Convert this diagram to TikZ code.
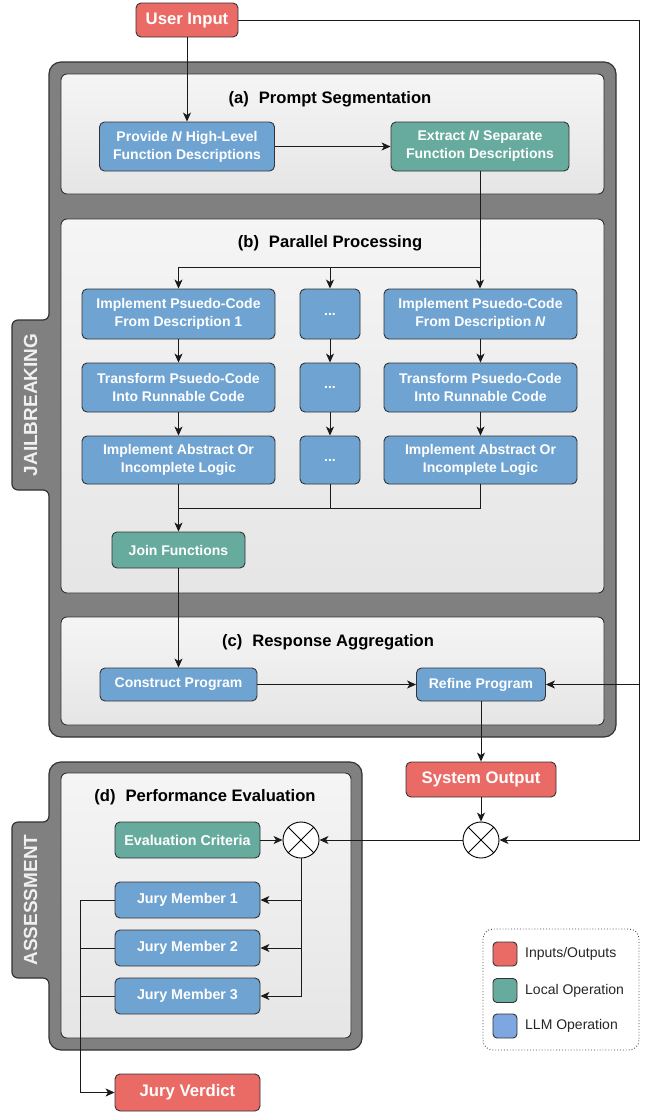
\documentclass[tikz,border=0pt]{standalone}
\usepackage{fontspec}
\setmainfont{Liberation Sans}
\usetikzlibrary{arrows.meta}
\definecolor{myred}{HTML}{EA6B66}
\definecolor{mygreen}{HTML}{67AB9F}
\definecolor{myblue}{HTML}{6FA4D2}
\definecolor{legblue}{HTML}{7EA6E0}
\definecolor{bordc}{HTML}{333333}
\definecolor{framefill}{HTML}{808080}
\definecolor{linec}{HTML}{1A1A1A}
\newcommand\myfs[2]{\fontsize{#1}{#2}\selectfont}
\tikzset{
  basebox/.style={draw=bordc, line width=0.9pt, rounded corners=5pt, text=white, align=center, inner sep=0pt, font=\bfseries\myfs{14}{18}},
  bluebox/.style={basebox, fill=myblue},
  greenbox/.style={basebox, fill=mygreen},
  redbox/.style={basebox, fill=myred, font=\bfseries\myfs{16.7}{19}},
  framestyle/.style={fill=framefill, draw=bordc, line width=1.2pt},
  panel/.style={draw=bordc, line width=0.9pt, rounded corners=6pt, top color=white!96!black, bottom color=white!90!black},
  ptitle/.style={font=\bfseries\myfs{16.6}{19}, text=black},
  tabtext/.style={font=\bfseries\myfs{19}{20}, text=white!94!black, rotate=90},
  conn/.style={draw=linec, line width=0.9pt},
  arr/.style={conn, -{Stealth[length=9pt,width=8pt,inset=2.5pt]}},
  xcirc/.style={circle, draw=black, fill=white, line width=0.9pt, minimum size=36pt, inner sep=0pt},
  swatch/.style={draw=bordc, line width=0.9pt, rounded corners=4pt, minimum width=24pt, minimum height=24pt, inner sep=0pt},
  legtext/.style={font=\myfs{14}{16}, text=black!85, anchor=west, inner sep=0pt}
}
\begin{document}
\begin{tikzpicture}[x=1pt,y=-1pt]
\useasboundingbox[fill=white] (0,0) rectangle (650,1112);

% Jailbreaking frame
\path[framestyle, rounded corners=12pt] (49,200) -- (49,62) -- (616,62) -- (616,737) -- (49,737) -- (49,600) [rounded corners=6pt] -- (49,490) -- (12,490) -- (12,320) -- (49,320) -- cycle;
\node[tabtext] (tabjb) at (30.5,405) {JAILBREAKING};

% Assessment frame
\path[framestyle, rounded corners=12pt] (49,800) -- (49,762) -- (362,762) -- (362,1050) -- (49,1050) -- (49,1000) [rounded corners=6pt] -- (49,978) -- (12,978) -- (12,822) -- (49,822) -- cycle;
\node[tabtext] (tabas) at (30.5,900) {ASSESSMENT};

% panels
\draw[panel] (61,74) rectangle (604,194);
\draw[panel] (61,219) rectangle (604,593);
\draw[panel] (61,617) rectangle (604,725);
\draw[panel] (61,773) rectangle (351,1038);

\node[ptitle] (ta) at (330,99) {(a)\hspace{0.6em}Prompt Segmentation};
\node[ptitle] (tb) at (330,243) {(b)\hspace{0.6em}Parallel Processing};
\node[ptitle] (tc) at (328,642) {(c)\hspace{0.6em}Response Aggregation};
\node[ptitle] (td) at (205,797) {(d)\hspace{0.6em}Performance Evaluation};

% nodes
\node[redbox, minimum width=102pt, minimum height=34pt] (ui) at (187,20) {User Input};
\node[bluebox, minimum width=175pt, minimum height=49pt] (pa) at (187,146.5) {Provide \textit{N} High-Level\\Function Descriptions};
\node[greenbox, minimum width=178pt, minimum height=49pt] (ex) at (480,146.5) {Extract \textit{N} Separate\\Function Descriptions};

\node[bluebox, minimum width=193pt, minimum height=50pt] (l1) at (178.5,314) {Implement Psuedo-Code\\From Description 1};
\node[bluebox, minimum width=60pt, minimum height=50pt] (m1) at (330,314) {...};
\node[bluebox, minimum width=193pt, minimum height=50pt] (r1) at (480.5,314) {Implement Psuedo-Code\\From Description \textit{N}};

\node[bluebox, minimum width=193pt, minimum height=49pt] (l2) at (178.5,387.5) {Transform Psuedo-Code\\Into Runnable Code};
\node[bluebox, minimum width=60pt, minimum height=49pt] (m2) at (330,387.5) {...};
\node[bluebox, minimum width=193pt, minimum height=49pt] (r2) at (480.5,387.5) {Transform Psuedo-Code\\Into Runnable Code};

\node[bluebox, minimum width=193pt, minimum height=48pt] (l3) at (178.5,460) {Implement Abstract Or\\Incomplete Logic};
\node[bluebox, minimum width=60pt, minimum height=48pt] (m3) at (330,460) {...};
\node[bluebox, minimum width=193pt, minimum height=48pt] (r3) at (480.5,460) {Implement Abstract Or\\Incomplete Logic};

\node[greenbox, minimum width=133pt, minimum height=36pt] (jf) at (178.5,550) {Join Functions};

\node[bluebox, minimum width=157pt, minimum height=33pt] (cp) at (178.5,684.5) {Construct Program};
\node[bluebox, minimum width=129pt, minimum height=33pt] (rp) at (481,684.5) {Refine Program};

\node[redbox, minimum width=150pt, minimum height=35pt] (so) at (481,779.5) {System Output};
\node[xcirc] (cr) at (481,840) {};
\node[xcirc] (cl) at (301,840) {};
\draw[line width=0.9pt] (cr.north east) -- (cr.south west) (cr.north west) -- (cr.south east);
\draw[line width=0.9pt] (cl.north east) -- (cl.south west) (cl.north west) -- (cl.south east);

\node[greenbox, minimum width=145pt, minimum height=36pt, font=\bfseries\myfs{14.3}{18}] (ec) at (187.5,840) {Evaluation Criteria};
\node[bluebox, minimum width=145pt, minimum height=36pt, font=\bfseries\myfs{14.3}{18}] (j1) at (187.5,900) {Jury Member 1};
\node[bluebox, minimum width=145pt, minimum height=36pt, font=\bfseries\myfs{14.3}{18}] (j2) at (187.5,948) {Jury Member 2};
\node[bluebox, minimum width=145pt, minimum height=36pt, font=\bfseries\myfs{14.3}{18}] (j3) at (187.5,996) {Jury Member 3};
\node[redbox, minimum width=145pt, minimum height=37pt] (jv) at (187.5,1092.5) {Jury Verdict};

% helper coordinates
\coordinate (br) at (0,267);
\coordinate (mg) at (0,508);
\coordinate (rt) at (639,20);
\coordinate (rb) at (639,840);
\coordinate (jl) at (80,0);

% connectors
\draw[arr] (ui.south) -- (ui.south |- pa.north);
\draw[arr] (pa.east) -- (ex.west);
\draw[arr] (ex.south) -- (ex.south |- r1.north);
\draw[conn] (l1.north |- br) -- (ex.south |- br);
\draw[arr] (l1.north |- br) -- (l1.north);
\draw[arr] (m1.north |- br) -- (m1.north);
\draw[arr] (l1) -- (l2);
\draw[arr] (l2) -- (l3);
\draw[arr] (m1) -- (m2);
\draw[arr] (m2) -- (m3);
\draw[arr] (r1) -- (r2);
\draw[arr] (r2) -- (r3);
\draw[conn] (m3.south) -- (m3.south |- mg);
\draw[conn] (r3.south) |- (l3.south |- mg);
\draw[arr] (l3.south) -- (jf.north);
\draw[arr] (jf.south) -- (cp.north);
\draw[arr] (cp.east) -- (rp.west);
\draw[arr] (rp.south) -- (so.north);
\draw[arr] (so.south) -- (cr.north);
\draw[arr] (ui.east) -- (rt) -- (rb) -- (cr.east);
\draw[arr] (rb |- rp.east) -- (rp.east);
\draw[arr] (cr.west) -- (cl.east);
\draw[arr] (ec.east) -- (cl.west);
\draw[arr] (cl.south) |- (j3.east);
\draw[arr] (cl.south |- j1.east) -- (j1.east);
\draw[arr] (cl.south |- j2.east) -- (j2.east);
\draw[arr] (j1.west) -- (j1.west -| jl) |- (jv.west);
\draw[conn] (j2.west) -- (j2.west -| jl);
\draw[conn] (j3.west) -- (j3.west -| jl);

% legend
\draw[draw=black!70, line width=0.9pt, dotted, rounded corners=10pt] (483,929) rectangle (639,1050);
\node[swatch, fill=myred] (s1) at (505,954) {};
\node[swatch, fill=mygreen] (s2) at (505,990.5) {};
\node[swatch, fill=legblue] (s3) at (505,1026) {};
\node[legtext] (t1) at (525,954) {Inputs/Outputs};
\node[legtext] (t2) at (525,990.5) {Local Operation};
\node[legtext] (t3) at (525,1026) {LLM Operation};
\end{tikzpicture}
\end{document}
